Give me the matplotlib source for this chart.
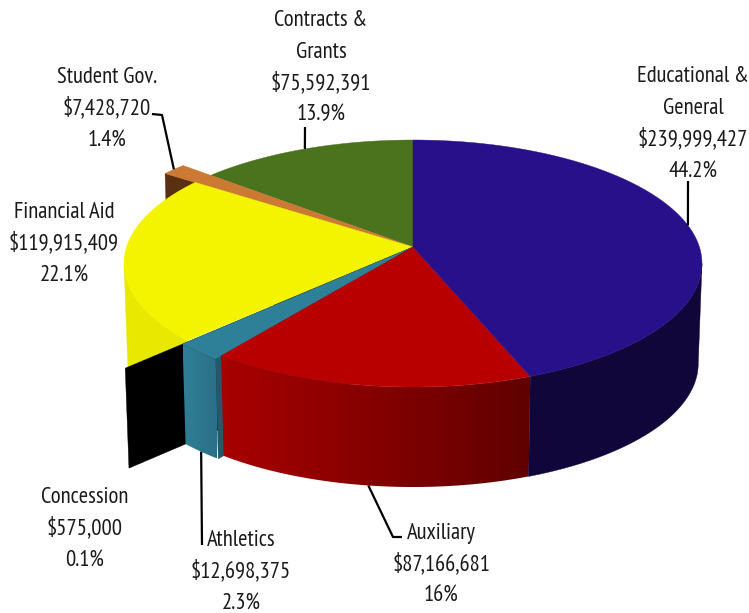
import numpy as np
import matplotlib
matplotlib.use('Agg')
import matplotlib.pyplot as plt
from matplotlib.patches import Polygon
import logging

logging.getLogger('matplotlib.font_manager').setLevel(logging.ERROR)
plt.rcParams['font.family'] = ['PT Sans Narrow', 'Roboto Condensed', 'Archivo Narrow', 'Liberation Sans', 'DejaVu Sans']

labels = ['Educational &\nGeneral', 'Auxiliary', 'Athletics', 'Concession',
          'Financial Aid', 'Student Gov.', 'Contracts &\nGrants']
values = [239999427, 87166681, 12698375, 575000, 119915409, 7428720, 75592391]
percents = ['44.2%', '16%', '2.3%', '0.1%', '22.1%', '1.4%', '13.9%']
money = ['$239,999,427', '$87,166,681', '$12,698,375', '$575,000',
         '$119,915,409', '$7,428,720', '$75,592,391']

# pie geometry in pixels, apex of the pie and perspective
AX, AY = 413, 247
BX, BY, K = 286.4, 121.3, 0.1336
DEPTH = 100
SHRINK = 0.987

fig = plt.figure(figsize=(7.49, 6.13), dpi=100)
ax = fig.add_axes([0, 0, 1, 1])


def rim(t, r=1.0):
    t = np.radians(t)
    u = r * np.sin(t)
    v = r * np.cos(t)
    s = 1 / (1 + K * v)
    return AX + BX * u * s, AY - BY * v * s


def low(x, y):
    return AX + (x - AX) * SHRINK, y + DEPTH


def top(t0, t1, color, r=1.0, z=1):
    ts = np.linspace(t0, t1, 120)
    x, y = rim(ts, r)
    pts = [(AX, AY)] + list(zip(x, y))
    ax.add_patch(Polygon(pts, closed=True, fc=color, ec=color, lw=0.3, zorder=z))


def wall(t0, t1, c0, c1=None, r=1.0, z=1):
    ts = np.linspace(t0, t1, 120)
    x, y = rim(ts, r)
    lx, ly = low(x, y)
    pts = list(zip(x, y)) + list(zip(lx[::-1], ly[::-1]))
    if c1 is None:
        ax.add_patch(Polygon(pts, closed=True, fc=c0, ec=c0, lw=0.3, zorder=z))
        return
    # shaded wall, horizontal ramp clipped to the wall shape
    ramp = np.linspace(0, 1, 256)[None, :, None]
    a = np.array(matplotlib.colors.to_rgb(c0))
    b = np.array(matplotlib.colors.to_rgb(c1))
    img = a + (b - a) * ramp
    im = ax.imshow(img, extent=(x.min(), x.max(), ly.max(), y.min()), aspect='auto',
                   zorder=z, interpolation='bilinear')
    clip = Polygon(pts, closed=True, transform=ax.transData)
    im.set_clip_path(clip)


def face(t, color, r=1.0, z=1):
    # flat radial cut going from the apex out to the rim
    x, y = rim(t, r)
    pts = [(AX, AY), (x, y), low(x, y), low(AX, AY)]
    ax.add_patch(Polygon(pts, closed=True, fc=color, ec=color, lw=0.3, zorder=z))


angles = np.cumsum([0] + values) / sum(values) * 360
start = angles[:-1]
end = angles[1:]
mid = (start + end) / 2

# edge of the pie that faces the viewer
left_edge = 270 - np.degrees(np.arcsin(K))
right_edge = 90 + np.degrees(np.arcsin(K))

# back to front
face(start[5], '#5A3012', r=1.15, z=1)
top(start[6], end[6], '#4B721D', z=2)
top(start[5], end[5], '#CC7A33', r=1.15, z=3)
wall(start[4], left_edge, '#E8E800', z=4)
top(start[4], end[4], '#F4F400', z=5)
face(start[3], '#000000', r=1.25, z=6)
face(start[2], '#26586A', r=1.025, z=7)
wall(start[2], end[2], '#2F7F96', '#2B7088', r=1.025, z=8)
top(start[2], end[2], '#2E8098', r=1.025, z=9)
wall(start[1], end[1], '#A80000', '#600000', z=10)
wall(right_edge, end[0], '#10063A', z=10)
top(start[1], end[1], '#B80000', z=11)
top(start[0], end[0], '#27108A', z=11)

# leader lines start on the rim at the middle of the slice
leaders = [
    (0, 1.0, False, [(688, 181)]),
    (6, 1.0, False, [(305, 127)]),
    (5, 1.15, False, [(162, 115), (152, 114)]),
    (2, 1.025, True, [(202, 545)]),
    (1, 1.0, True, [(393, 537), (402, 537)]),
]
for i, r, on_low, tail in leaders:
    x, y = rim(mid[i], r)
    if on_low:
        x, y = low(x, y)
    xs = [x] + [p[0] for p in tail]
    ys = [y] + [p[1] for p in tail]
    ax.plot(xs, ys, color='black', lw=1.6, zorder=12, solid_capstyle='butt')

# label centres and baseline of the first line, same order as the values
label_x = [693, 441, 241, 85, 64, 107, 321]
label_y = [82, 539, 546, 503, 218, 83, 26]
PITCH = 31.5
for i in range(len(labels)):
    lines = labels[i].split('\n') + [money[i], percents[i]]
    for k, line in enumerate(lines):
        ax.text(label_x[i], label_y[i] + k * PITCH, line, ha='center', va='baseline',
                fontsize=16.3, color='#1a1a1a', zorder=13)

ax.set_xlim(0, 749)
ax.set_ylim(613, 0)
ax.axis('off')
fig.savefig('out.png', dpi=100)
